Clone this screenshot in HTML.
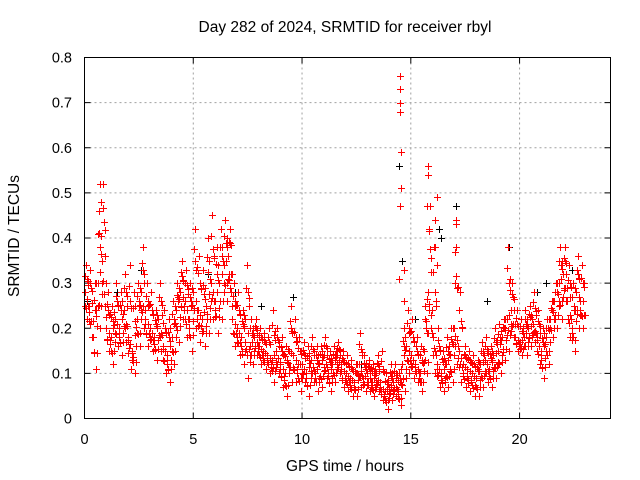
<!DOCTYPE html>
<html><head><meta charset="utf-8"><style>
body{margin:0;background:#fff}
svg{display:block;font-family:"Liberation Sans",sans-serif}
</style></head><body>
<svg id="chart" width="640" height="480" xmlns="http://www.w3.org/2000/svg">
<text x="345" y="32" font-size="15.5" text-anchor="middle">Day 282 of 2024, SRMTID for receiver rbyl</text>
<text x="345" y="471" font-size="15.5" text-anchor="middle">GPS time / hours</text>
<text transform="translate(19,236) rotate(-90)" font-size="15.5" text-anchor="middle">SRMTID / TECUs</text>
<g id="grid"></g>
<g id="ticks"></g>
<g id="black"></g>
<g id="red"></g>
<rect x="84.5" y="57.5" width="526" height="361" fill="none" stroke="#000"/>
</svg>
<script>
const xTicks=[0,5,10,15,20];
const yTicks=[0,0.1,0.2,0.3,0.4,0.5,0.6,0.7,0.8];
const yTickLabels=["0","0.1","0.2","0.3","0.4","0.5","0.6","0.7","0.8"];
const binStart=0, binStep=0.2;
const redMid=[.28,.25,.18,.30,.35,.20,.18,.22,.20,.24,.18,.15,.22,.28,.22,.20,.18,.22,.16,.14,.18,.24,.28,.26,.22,.28,.24,.22,.25,.30,.26,.30,.34,.36,.22,.20,.18,.22,.16,.18,.16,.15,.14,.13,.15,.12,.10,.15,.14,.12,.12,.10,.13,.10,.12,.14,.10,.12,.14,.11,.10,.09,.08,.12,.09,.10,.08,.10,.07,.06,.07,.08,.06,.12,.16,.14,.12,.10,.15,.28,.18,.12,.10,.12,.14,.20,.15,.12,.11,.10,.09,.12,.13,.11,.14,.15,.18,.22,.24,.18,.17,.18,.20,.21,.18,.14,.18,.22,.26,.30,.32,.26,.20,.28,.26];
const redHigh=[.34,.33,.30,.46,.52,.28,.25,.30,.28,.32,.34,.28,.30,.38,.30,.28,.24,.30,.24,.22,.26,.30,.35,.33,.30,.42,.36,.33,.40,.45,.38,.42,.44,.42,.30,.28,.24,.34,.22,.22,.20,.19,.20,.24,.20,.18,.16,.25,.22,.18,.17,.16,.18,.16,.16,.18,.15,.16,.17,.15,.14,.13,.12,.19,.14,.13,.12,.14,.15,.10,.12,.12,.10,.20,.24,.22,.18,.16,.25,.47,.38,.20,.15,.18,.20,.43,.28,.16,.15,.14,.13,.17,.18,.16,.20,.21,.22,.38,.30,.24,.22,.24,.25,.28,.24,.20,.22,.26,.30,.38,.38,.34,.30,.36,.34];
const redLow=[.22,.18,.11,.20,.25,.15,.12,.16,.14,.17,.11,.10,.16,.20,.16,.15,.13,.15,.10,.08,.12,.17,.22,.18,.15,.20,.17,.16,.19,.22,.19,.22,.26,.28,.16,.14,.12,.09,.12,.14,.12,.11,.10,.08,.10,.07,.05,.08,.08,.06,.08,.05,.08,.06,.07,.09,.06,.08,.10,.07,.06,.05,.05,.07,.06,.06,.05,.06,.04,.02,.04,.05,.03,.06,.10,.09,.08,.06,.10,.20,.10,.07,.06,.07,.08,.12,.08,.07,.06,.05,.05,.07,.08,.07,.09,.10,.13,.15,.18,.15,.14,.14,.16,.17,.12,.09,.12,.18,.20,.22,.26,.18,.15,.20,.20];
const spikeTimes=[14.5,14.5,14.5,14.5,14.55,14.55,14.5,14.45,14.7,14.7,15.8,15.8,15.75,15.85,16.1,16.1,16.2,16.2,17.1,17.1,17.05,0.7,0.75,0.65];
const spikeValues=[.76,.73,.70,.68,.59,.51,.47,.31,.33,.26,.56,.54,.47,.42,.44,.38,.49,.34,.44,.38,.30,.52,.48,.41];
const blackTimes=[0.1,1.5,2.6,5.7,8.1,9.6,14.45,14.6,16.3,16.4,17.1,18.5,19.5,20.8,21.2,22.4,3.3,6.9,12.7,15.2];
const blackValues=[.26,.28,.33,.32,.25,.27,.56,.35,.42,.40,.47,.26,.38,.28,.30,.33,.24,.28,.12,.22];
const X0=84.5,X1=610.5,Y0=418.5,Y1=57.5,XMAX=24.18,YMAX=0.8;
const xs=v=>X0+(X1-X0)*v/XMAX, ys=v=>Y0-(Y0-Y1)*v/YMAX;
const NS="http://www.w3.org/2000/svg";
function mk(tag,attrs,parent){const e=document.createElementNS(NS,tag);for(const k in attrs)e.setAttribute(k,attrs[k]);parent.appendChild(e);return e;}
const grid=document.getElementById('grid'),ticks=document.getElementById('ticks');
xTicks.forEach(t=>{const x=xs(t);
 if(t>0){const g=mk('line',{x1:x,x2:x,y1:Y1,y2:Y0,stroke:'#a0a0a0','stroke-dasharray':'2,3'},grid);}
 mk('line',{x1:x,x2:x,y1:Y0,y2:Y0-6,stroke:'#000'},ticks);mk('line',{x1:x,x2:x,y1:Y1,y2:Y1+6,stroke:'#000'},ticks);
 const l=mk('text',{x:x,y:444,'font-size':14.5,'text-anchor':'middle'},ticks);l.textContent=t;
 });
yTicks.forEach((t,i)=>{const y=ys(t);
 if(t>0&&t<YMAX){const g=mk('line',{x1:X0,x2:X1,y1:y,y2:y,stroke:'#a0a0a0','stroke-dasharray':'2,3'},grid);}
 mk('line',{x1:X0,x2:X0+6,y1:y,y2:y,stroke:'#000'},ticks);mk('line',{x1:X1,x2:X1-6,y1:y,y2:y,stroke:'#000'},ticks);
 const l=mk('text',{x:72,y:y+5,'font-size':14.5,'text-anchor':'end'},ticks);l.textContent=yTickLabels[i];
 });
function plus(t,v,color,parent){const x=Math.round(xs(t))+0.5,y=Math.round(ys(v))+0.5;
 const p=mk('path',{d:`M${x-3.5} ${y}H${x+3.5}M${x} ${y-3.5}V${y+3.5}`,stroke:color,'stroke-width':1,fill:'none'},parent);
 }
const blk=document.getElementById('black'),red=document.getElementById('red');
blackTimes.forEach((t,i)=>plus(t,blackValues[i],'#000',blk));
redMid.forEach((m,i)=>{
 const t0=binStart+i*binStep,h=redHigh[i],l=redLow[i];
 const n=i+1<redMid.length?redMid[i+1]:m;
 const pts=[[0,m],[0.07,h],[0.13,l],[0.1,(m+h)/2],[0.17,(m+l)/2],[0.03,h*0.8+l*0.2],[0.05,l*0.8+h*0.2],[0.11,(m+n)/2],[0.15,m*0.6+h*0.4],[0.19,(l+n)/2],[0.02,(m+l)/2],[0.14,(h+n)/2]];
 pts.forEach(([o,v])=>plus(t0+o,v,'#f00',red));
});
spikeTimes.forEach((t,i)=>plus(t,spikeValues[i],'#f00',red));
</script>
</body></html>
